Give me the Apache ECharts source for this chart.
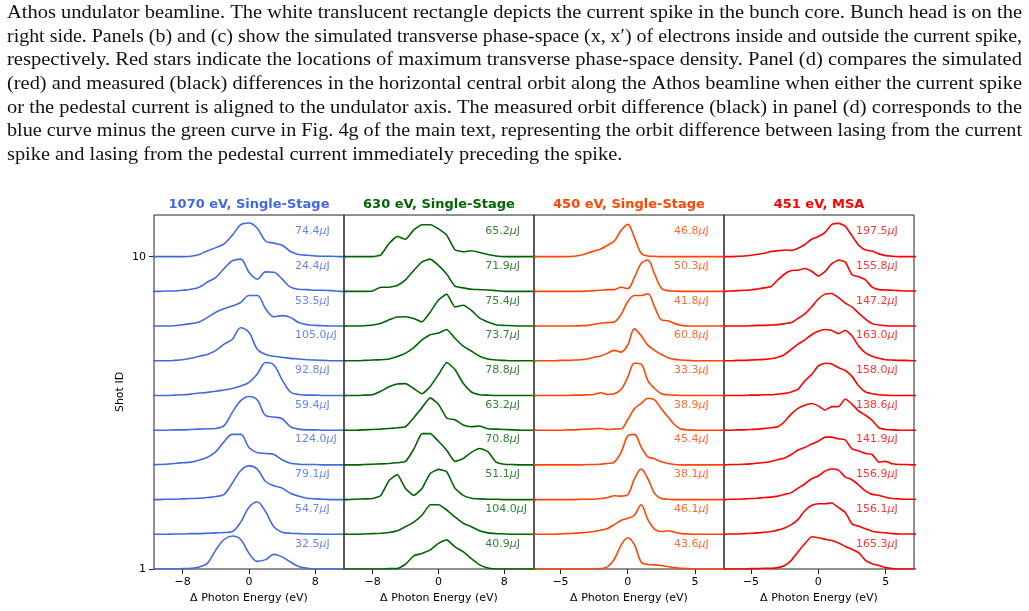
<!DOCTYPE html>
<html>
<head>
<meta charset="utf-8">
<script src="https://cdn.jsdelivr.net/npm/echarts@6/dist/echarts.min.js"></script>
<style>
  html, body { margin: 0; padding: 0; background: #fff; }
  #chart { width: 1029px; height: 611px; }
</style>
</head>
<body>
<div id="chart"></div>
<script>
// caption text above the figure
const captionLines = [
  'Athos undulator beamline. The white translucent rectangle depicts the current spike in the bunch core. Bunch head is on the',
  'right side. Panels (b) and (c) show the simulated transverse phase-space (x, x\u2032) of electrons inside and outside the current spike,',
  'respectively. Red stars indicate the locations of maximum transverse phase-space density. Panel (d) compares the simulated',
  '(red) and measured (black) differences in the horizontal central orbit along the Athos beamline when either the current spike',
  'or the pedestal current is aligned to the undulator axis. The measured orbit difference (black) in panel (d) corresponds to the',
  'blue curve minus the green curve in Fig. 4g of the main text, representing the orbit difference between lasing from the current',
  'spike and lasing from the pedestal current immediately preceding the spike.'
];

const panelTitles = ['1070 eV, Single-Stage', '630 eV, Single-Stage', '450 eV, Single-Stage', '451 eV, MSA'];

// photon energy grids (eV)
const energyWide = [-12, -11, -10, -9, -8, -7, -6, -5, -4, -3, -2, -1, 0, 1, 2, 3, 4, 5, 6, 7, 8, 9, 10, 11, 12];
const energyNarrow = [-7, -6.5, -6, -5.5, -5, -4.5, -4, -3.5, -3, -2.5, -2, -1.5, -1, -0.5, 0, 0.5, 1, 1.5, 2, 2.5,
  3, 3.5, 4, 4.5, 5, 5.5, 6, 6.5, 7, 7.5];

// pulse energies (uJ), shot 1 .. shot 10
const pulse1070 = [32.5, 54.7, 79.1, 124.0, 59.4, 92.8, 105.0, 53.5, 24.4, 74.4];
const pulse630 = [40.9, 104.0, 51.1, 70.8, 63.2, 78.8, 73.7, 75.4, 71.9, 65.2];
const pulse450 = [43.6, 46.1, 38.1, 45.4, 38.9, 33.3, 60.8, 41.8, 50.3, 46.8];
const pulse451 = [165.3, 156.1, 156.9, 141.9, 138.6, 158.0, 163.0, 147.2, 155.8, 197.5];

// normalised spectra, shot 1 .. shot 10
const spec1070 = [
  [0,0,0,0,0.01,0.02,0.06,0.17,0.55,0.85,0.95,0.85,0.45,0.22,0.27,0.42,0.35,0.2,0.07,0.02,0,0,0,0,0],
  [0,0,0,0.01,0.01,0.02,0.02,0.03,0.04,0.05,0.08,0.35,0.78,0.93,0.65,0.22,0.06,0.03,0.02,0.01,0.01,0,0,0,0],
  [0,0,0.01,0.01,0.02,0.03,0.04,0.06,0.09,0.15,0.48,0.84,0.97,0.88,0.52,0.4,0.33,0.18,0.1,0.04,0.02,0.01,0,0,0],
  [0,0.01,0.02,0.04,0.06,0.08,0.14,0.22,0.38,0.67,0.88,0.88,0.5,0.35,0.33,0.3,0.15,0.05,0.02,0.01,0.01,0,0,0,0],
  [0,0,0,0.01,0.01,0.02,0.03,0.04,0.05,0.13,0.52,0.85,0.97,0.87,0.42,0.38,0.33,0.1,0.03,0.01,0.01,0,0,0,0],
  [0,0,0,0.01,0.02,0.04,0.07,0.09,0.12,0.16,0.2,0.27,0.38,0.62,0.95,0.88,0.45,0.1,0.03,0.01,0.01,0,0,0,0],
  [0,0,0,0.01,0.03,0.07,0.13,0.18,0.3,0.48,0.62,0.95,0.82,0.33,0.18,0.13,0.1,0.07,0.05,0.03,0.02,0.01,0,0,0],
  [0,0,0,0.01,0.04,0.07,0.12,0.25,0.4,0.5,0.58,0.68,0.88,0.88,0.5,0.27,0.3,0.25,0.1,0.04,0.02,0.01,0,0,0],
  [0,0,0.01,0.01,0.03,0.06,0.12,0.27,0.4,0.66,0.88,0.93,0.55,0.35,0.56,0.55,0.35,0.12,0.06,0.05,0.03,0.03,0.02,0,0],
  [0,0,0,0,0,0.01,0.06,0.17,0.26,0.37,0.62,0.92,0.97,0.82,0.45,0.39,0.33,0.15,0.06,0.04,0.02,0.01,0.01,0,0]
];

const spec630 = [
  [0,0,0,0,0,0,0.01,0.01,0.14,0.38,0.45,0.55,0.74,0.84,0.64,0.5,0.3,0.12,0.03,0,0,0,0,0,0],
  [0,0,0,0.01,0.02,0.03,0.05,0.1,0.22,0.35,0.55,0.85,0.85,0.7,0.5,0.32,0.22,0.1,0.04,0.02,0.01,0,0,0,0],
  [0,0,0.01,0.02,0.03,0.12,0.55,0.72,0.32,0.12,0.32,0.75,0.87,0.8,0.33,0.12,0.04,0.02,0.01,0.01,0,0,0,0,0],
  [0,0,0,0.01,0.02,0.03,0.04,0.06,0.1,0.45,0.9,0.9,0.68,0.42,0.1,0.18,0.36,0.47,0.38,0.08,0.02,0.01,0,0,0],
  [0,0,0,0.01,0.02,0.03,0.05,0.07,0.1,0.36,0.65,0.93,0.75,0.35,0.3,0.15,0.1,0.12,0.04,0.03,0.02,0.01,0,0,0],
  [0,0,0,0.01,0.02,0.12,0.25,0.33,0.34,0.2,0.05,0.26,0.6,0.95,0.75,0.35,0.1,0.02,0.01,0,0,0,0,0,0],
  [0,0,0,0.01,0.02,0.03,0.05,0.12,0.22,0.38,0.6,0.75,0.8,0.9,0.65,0.42,0.28,0.13,0.05,0.02,0.01,0,0,0,0],
  [0,0,0,0.01,0.03,0.08,0.18,0.26,0.27,0.22,0.12,0.4,0.75,0.92,0.55,0.6,0.45,0.23,0.12,0.04,0.02,0.01,0,0,0],
  [0,0,0,0,0.01,0.12,0.12,0.17,0.33,0.6,0.85,0.93,0.75,0.5,0.15,0.1,0.06,0.05,0.04,0.02,0,0,0,0,0],
  [0,0,0,0,0,0.05,0.38,0.58,0.5,0.77,0.92,0.92,0.8,0.62,0.2,0.14,0.17,0.12,0.06,0.02,0,0,0,0,0]
];

const spec450 = [
  [0,0,0,0,0,0,0,0,0,0,0.01,0.06,0.28,0.68,0.9,0.7,0.2,0.13,0.12,0.1,0.07,0.04,0.02,0.01,0,0,0,0,0,0],
  [0,0,0,0,0.01,0.02,0.03,0.04,0.06,0.08,0.12,0.17,0.28,0.4,0.46,0.55,0.85,0.42,0.15,0.08,0.1,0.06,0.02,0.01,0,0,0,0,0,0],
  [0,0,0,0,0,0,0,0.01,0.01,0.01,0.03,0.06,0.11,0.1,0.14,0.6,0.88,0.6,0.18,0.03,0.01,0,0,0,0,0,0,0,0,0],
  [0,0,0,0,0,0,0,0,0.01,0.01,0.02,0.04,0.08,0.35,0.83,0.88,0.52,0.23,0.18,0.09,0.04,0.01,0,0,0,0,0,0,0,0],
  [0,0,0,0,0,0.01,0.01,0.02,0.03,0.04,0.05,0.02,0.03,0.04,0.3,0.62,0.77,0.92,0.87,0.62,0.38,0.15,0.03,0.01,0,0,0,0,0,0],
  [0,0,0,0,0,0,0.01,0.01,0.02,0.03,0.08,0.03,0.05,0.17,0.52,0.93,0.9,0.43,0.2,0.05,0.02,0.01,0,0,0,0,0,0,0,0],
  [0,0,0,0,0.01,0.01,0.02,0.03,0.05,0.1,0.14,0.22,0.3,0.25,0.45,0.92,0.72,0.45,0.3,0.18,0.09,0.04,0.02,0.01,0,0,0,0,0,0],
  [0,0,0,0,0,0,0,0.01,0.02,0.05,0.08,0.1,0.12,0.33,0.7,0.88,0.88,0.93,0.55,0.18,0.15,0.07,0.02,0,0,0,0,0,0,0],
  [0,0,0,0,0,0,0,0,0.01,0.02,0.03,0.05,0.05,0.12,0.08,0.4,0.8,0.9,0.5,0.1,0.02,0.01,0,0,0,0,0,0,0,0],
  [0,0,0,0,0,0,0.01,0.04,0.1,0.16,0.22,0.33,0.45,0.75,0.93,0.55,0.1,0.02,0.01,0,0,0,0,0,0,0,0,0,0,0]
];

const spec451 = [
  [0,0,0,0,0.01,0.01,0.02,0.02,0.04,0.1,0.25,0.5,0.73,0.93,0.9,0.86,0.82,0.75,0.65,0.57,0.47,0.25,0.15,0.1,0.04,0.01,0,0,0,0],
  [0,0.01,0.01,0.02,0.03,0.04,0.06,0.08,0.12,0.18,0.28,0.43,0.68,0.83,0.88,0.88,0.9,0.77,0.63,0.3,0.23,0.16,0.09,0.06,0.04,0.02,0.01,0.01,0.01,0],
  [0,0.01,0.01,0.02,0.03,0.04,0.06,0.07,0.1,0.15,0.2,0.33,0.45,0.6,0.68,0.82,0.88,0.85,0.65,0.57,0.42,0.25,0.15,0.12,0.07,0.03,0.02,0.01,0.01,0.01],
  [0,0.01,0.01,0.02,0.03,0.05,0.07,0.1,0.15,0.2,0.3,0.43,0.5,0.6,0.68,0.8,0.8,0.75,0.72,0.46,0.4,0.33,0.3,0.08,0.1,0.03,0.01,0.01,0,0],
  [0,0,0.01,0.01,0.02,0.03,0.05,0.07,0.1,0.25,0.47,0.63,0.72,0.77,0.7,0.58,0.68,0.68,0.9,0.75,0.55,0.43,0.28,0.07,0.02,0.01,0,0,0,0],
  [0,0,0,0,0.01,0.01,0.02,0.02,0.04,0.06,0.1,0.18,0.42,0.6,0.85,0.93,0.91,0.8,0.72,0.55,0.27,0.1,0.05,0.02,0.01,0,0,0,0,0],
  [0,0,0.01,0.01,0.02,0.03,0.04,0.06,0.1,0.18,0.33,0.48,0.6,0.75,0.85,0.9,0.87,0.78,0.88,0.72,0.42,0.23,0.13,0.07,0.03,0.02,0.01,0.01,0,0],
  [0,0,0,0,0.01,0.02,0.02,0.03,0.04,0.07,0.1,0.22,0.35,0.55,0.78,0.92,0.94,0.82,0.66,0.55,0.37,0.2,0.07,0.03,0.01,0,0,0,0,0],
  [0,0.01,0.02,0.03,0.04,0.07,0.1,0.14,0.33,0.5,0.6,0.61,0.66,0.58,0.44,0.57,0.8,0.9,0.85,0.48,0.42,0.33,0.12,0.05,0.04,0.03,0.02,0.01,0.01,0],
  [0,0,0.01,0.02,0.04,0.07,0.1,0.15,0.17,0.19,0.18,0.24,0.35,0.5,0.58,0.7,0.93,0.96,0.88,0.6,0.33,0.19,0.16,0.08,0.03,0.01,0,0,0,0]
];

const panels = [
  { color: '#4169E1', xs: energyWide, rows: spec1070, pulses: pulse1070, xMin: -11.46, xMax: 11.46, ticks: [-8, 0, 8], labelX: 5.55, smooth: 0.35 },
  { color: '#006400', xs: energyWide, rows: spec630, pulses: pulse630, xMin: -11.47, xMax: 11.6, ticks: [-8, 0, 8], labelX: 5.68, smooth: 0.15 },
  { color: '#FF4500', xs: energyNarrow, rows: spec450, pulses: pulse450, xMin: -6.97, xMax: 7.16, ticks: [-5, 0, 5], labelX: 3.44, smooth: 0.35 },
  { color: '#FF0000', xs: energyNarrow, rows: spec451, pulses: pulse451, xMin: -7.0, xMax: 7.1, ticks: [-5, 0, 5], labelX: 2.8, smooth: 0.15 }
];

const chart = echarts.init(document.getElementById('chart'), null, { renderer: 'canvas' });
const fontFamily = 'DejaVu Sans';

// justified caption: stretch each line to the text block width
const measureCtx = document.createElement('canvas').getContext('2d');
const captionFont = '19px "Liberation Serif"';
measureCtx.font = captionFont;
const blockWidth = 1015;
const scales = captionLines.map(t => blockWidth / measureCtx.measureText(t).width);
const avgScale = scales.slice(0, -1).reduce((a, b) => a + b, 0) / (scales.length - 1);
const captionGraphics = captionLines.map((t, i) => ({
  type: 'text',
  x: 7,
  y: 13 + 23.7 * i,
  scaleX: i < captionLines.length - 1 ? scales[i] : avgScale,
  silent: true,
  style: { text: t, font: captionFont, fill: '#111', verticalAlign: 'middle', textVerticalAlign: 'middle' }
}));

const grids = [], xAxes = [], yAxes = [], titles = [], series = [];
const left0 = 154, panelW = 190, top0 = 215, panelH = 354;

panels.forEach((p, i) => {
  const left = left0 + panelW * i;
  grids.push({
    left: left, top: top0, width: panelW, height: panelH,
    show: true, borderColor: '#222', borderWidth: 1, backgroundColor: 'transparent',
    containLabel: false, outerBoundsMode: 'none'
  });
  titles.push({
    text: panelTitles[i],
    left: left + panelW / 2,
    top: 198,
    textAlign: 'center',
    padding: 0,
    textStyle: { color: p.color, fontFamily: fontFamily, fontSize: 13, fontWeight: 'bold' }
  });
  xAxes.push({
    type: 'value', gridIndex: i, min: p.xMin, max: p.xMax,
    axisLine: { show: false, onZero: false },
    splitLine: { show: false },
    axisTick: { show: true, length: 5, customValues: p.ticks, lineStyle: { color: '#222' } },
    axisLabel: {
      show: true, customValues: p.ticks, margin: 8, color: '#000', fontFamily: fontFamily, fontSize: 11,
      formatter: v => String(v).replace('-', '\u2212')
    },
    name: '\u0394 Photon Energy (eV)', nameLocation: 'middle', nameGap: 23,
    nameTextStyle: { color: '#000', fontFamily: fontFamily, fontSize: 11 }
  });
  if (i === 0) {
    yAxes.push({
      type: 'value', gridIndex: i, min: 1, max: 11.2,
      axisLine: { show: false, onZero: false },
      splitLine: { show: false },
      axisTick: { show: true, length: 5, customValues: [1, 10], lineStyle: { color: '#222' } },
      axisLabel: { show: true, customValues: [1, 10], margin: 8, color: '#000', fontFamily: fontFamily, fontSize: 11 },
      name: 'Shot ID', nameLocation: 'middle', nameGap: 28,
      nameTextStyle: { color: '#000', fontFamily: fontFamily, fontSize: 11 }
    });
  } else {
    yAxes.push({ type: 'value', gridIndex: i, min: 1, max: 11.2, show: false, axisLine: { onZero: false } });
  }

  p.rows.forEach((row, k) => {
    const shot = k + 1;
    series.push({
      type: 'line', xAxisIndex: i, yAxisIndex: i,
      data: p.xs.map((x, j) => [x, shot + row[j]]),
      showSymbol: false, symbol: 'none', smooth: p.smooth, silent: true,
      lineStyle: { color: p.color, width: 1.6 },
      z: 2
    });
  });

  series.push({
    type: 'scatter', xAxisIndex: i, yAxisIndex: i, symbolSize: 0, silent: true, z: 3,
    data: p.pulses.map((e, k) => [p.labelX, k + 1 + 0.73, e]),
    label: {
      show: true, position: 'right', distance: 0,
      formatter: q => '{v|' + q.data[2].toFixed(1) + '}{mu|\u03bc}{v|J}',
      rich: {
        v: { color: p.color, fontFamily: fontFamily, fontSize: 11 },
        mu: { color: p.color, fontFamily: fontFamily, fontSize: 11, fontStyle: 'italic' }
      }
    }
  });
});

const option = {
  animation: false,
  backgroundColor: '#fff',
  textStyle: { fontFamily: fontFamily },
  title: titles,
  grid: grids,
  xAxis: xAxes,
  yAxis: yAxes,
  series: series,
  graphic: captionGraphics
};

chart.setOption(option);
</script>
</body>
</html>
